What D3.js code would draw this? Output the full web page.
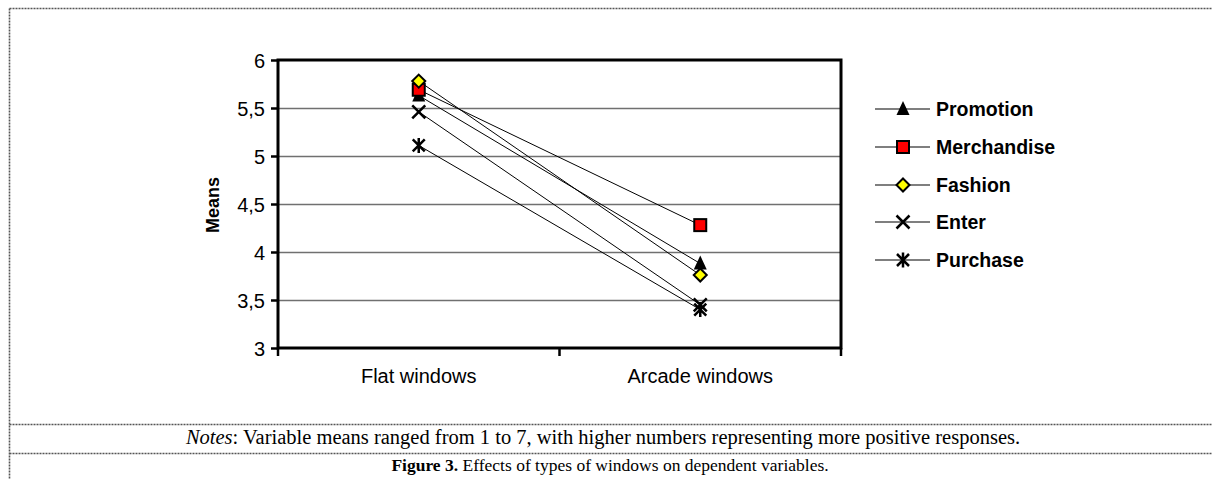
<!DOCTYPE html>
<html><head><meta charset="utf-8">
<script src="https://cdn.jsdelivr.net/npm/d3@7"></script>
<style>body{margin:0;background:#fff}</style>
</head><body>
<svg id="c" width="1212" height="479"></svg>
<script>
const categories = ["Flat windows", "Arcade windows"];
const seriesNames = ["Promotion", "Merchandise", "Fashion", "Enter", "Purchase"];
const promotion = [5.63, 3.88];
const merchandise = [5.69, 4.28];
const fashion = [5.78, 3.76];
const enter = [5.46, 3.45];
const purchase = [5.11, 3.40];
const yTicks = [3, 3.5, 4, 4.5, 5, 5.5, 6];
const yTickLabels = ["3", "3,5", "4", "4,5", "5", "5,5", "6"];
const notesText = ": Variable means ranged from 1 to 7, with higher numbers representing more positive responses.";
const captionText = " Effects of types of windows on dependent variables.";

const seriesValues = [promotion, merchandise, fashion, enter, purchase];
const markerTypes = ["triangle", "square", "diamond", "x", "star"];

const SANS = "Liberation Sans, Arial, sans-serif";
const SERIF = "Liberation Serif, Times New Roman, serif";
const svg = d3.select("#c");
const L = 278, R = 841, T = 60, B = 348;
const x = d3.scaleBand().domain(categories).range([L, R]);
const y = d3.scaleLinear().domain([3, 6]).range([B, T]);

// outer dotted borders
function dline(x1, y1, x2, y2) {
  svg.append("line").attr("x1", x1).attr("y1", y1).attr("x2", x2).attr("y2", y2)
    .attr("stroke", "#555").attr("stroke-width", 1.6).attr("stroke-dasharray", "2,1");
}
dline(9.5, 8.5, 1212, 8.5);
dline(9.5, 8.5, 9.5, 479);
dline(9.5, 424.5, 1212, 424.5);
dline(9.5, 453.5, 1212, 453.5);

// gridlines
svg.append("g").selectAll("line").data(yTicks.slice(1, -1)).join("line")
  .attr("x1", L).attr("x2", R)
  .attr("y1", d => Math.round(y(d)) + 0.5).attr("y2", d => Math.round(y(d)) + 0.5)
  .attr("stroke", "#707070").attr("stroke-width", 1.3);

// frame
svg.append("rect").attr("x", L).attr("y", T).attr("width", R - L).attr("height", B - T)
  .attr("fill", "none").attr("stroke", "#000").attr("stroke-width", 3);

// y axis
const yAxis = d3.axisLeft(y).tickValues(yTicks).tickFormat((d, i) => yTickLabels[i]).tickSize(7).tickPadding(6);
const gy = svg.append("g").attr("transform", `translate(${L},0)`).call(yAxis);
gy.select(".domain").remove();
gy.selectAll(".tick line").attr("stroke", "#000").attr("stroke-width", 2.5);
gy.selectAll("text").attr("font-family", SANS).attr("font-size", 20).attr("fill", "#000").attr("dy", "0.36em");

// x axis ticks at boundaries
const bounds = [L, L + x.bandwidth(), R];
svg.append("g").selectAll("line").data(bounds).join("line")
  .attr("x1", d => d).attr("x2", d => d).attr("y1", B).attr("y2", B + 8)
  .attr("stroke", "#000").attr("stroke-width", 2.5);
svg.append("g").selectAll("text").data(categories).join("text")
  .attr("x", d => x(d) + x.bandwidth() / 2).attr("y", 383)
  .attr("text-anchor", "middle").attr("font-family", SANS)
  .attr("font-size", 20).text(d => d);

// y title
svg.append("text").attr("transform", "translate(219,205) rotate(-90)")
  .attr("text-anchor", "middle").attr("font-family", SANS)
  .attr("font-size", 18).attr("font-weight", "bold").text("Means");

// marker drawing
function drawMarker(g, type, cx, cy) {
  if (type === "triangle") {
    g.append("path").attr("d", `M${cx},${cy - 8}L${cx + 6.5},${cy + 6}L${cx - 6.5},${cy + 6}Z`).attr("fill", "#000");
  } else if (type === "square") {
    g.append("rect").attr("x", cx - 6).attr("y", cy - 6).attr("width", 12).attr("height", 12)
      .attr("fill", "#f00").attr("stroke", "#000").attr("stroke-width", 2);
  } else if (type === "diamond") {
    g.append("path").attr("d", `M${cx},${cy - 6.5}L${cx + 6.5},${cy}L${cx},${cy + 6.5}L${cx - 6.5},${cy}Z`)
      .attr("fill", "#ff0").attr("stroke", "#000").attr("stroke-width", 2);
  } else if (type === "x") {
    g.append("path").attr("d", `M${cx - 6.5},${cy - 6.5}L${cx + 6.5},${cy + 6.5}M${cx + 6.5},${cy - 6.5}L${cx - 6.5},${cy + 6.5}`)
      .attr("stroke", "#000").attr("stroke-width", 2.5);
  } else if (type === "star") {
    g.append("path").attr("d", `M${cx - 6},${cy - 6}L${cx + 6},${cy + 6}M${cx + 6},${cy - 6}L${cx - 6},${cy + 6}M${cx},${cy - 7.5}L${cx},${cy + 7.5}`)
      .attr("stroke", "#000").attr("stroke-width", 2.5);
  }
}

const cx = c => x(c) + x.bandwidth() / 2;
const line = d3.line().x((d, i) => cx(categories[i])).y(d => y(d));
const gl = svg.append("g");
seriesValues.forEach(vals => {
  gl.append("path").attr("d", line(vals)).attr("fill", "none").attr("stroke", "#000").attr("stroke-width", 1);
});
const gm = svg.append("g");
for (let s = 0; s < seriesValues.length; s++) {
  seriesValues[s].forEach((v, i) => drawMarker(gm, markerTypes[s], cx(categories[i]), y(v)));
}

// legend
const legY = [109, 147, 185, 222, 260];
const lg = svg.append("g");
seriesNames.forEach((n, i) => {
  lg.append("line").attr("x1", 875).attr("x2", 930).attr("y1", legY[i]).attr("y2", legY[i])
    .attr("stroke", "#000").attr("stroke-width", 1.2);
  drawMarker(lg, markerTypes[i], 903, legY[i]);
  lg.append("text").attr("x", 936).attr("y", legY[i] + 7)
    .attr("font-family", SANS).attr("font-size", 19.5)
    .attr("font-weight", "bold").text(n);
});

// notes and caption
const nt = svg.append("text").attr("x", 603).attr("y", 444).attr("text-anchor", "middle")
  .attr("font-family", SERIF).attr("font-size", 20.5);
nt.append("tspan").attr("font-style", "italic").text("Notes");
nt.append("tspan").text(notesText);
const ct = svg.append("text").attr("x", 610).attr("y", 471).attr("text-anchor", "middle")
  .attr("font-family", SERIF).attr("font-size", 17.5);
ct.append("tspan").attr("font-weight", "bold").text("Figure 3.");
ct.append("tspan").text(captionText);
</script>
</body></html>
